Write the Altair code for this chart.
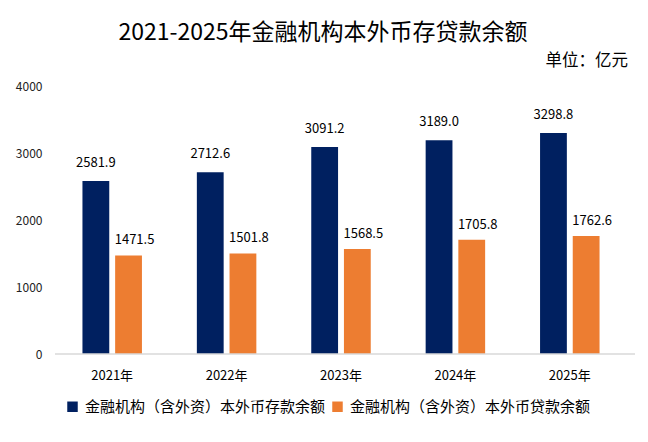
import altair as alt
import pandas as pd

years = ["2021年", "2022年", "2023年", "2024年", "2025年"]
deposits = [2581.9, 2712.6, 3091.2, 3189.0, 3298.8]
loans = [1471.5, 1501.8, 1568.5, 1705.8, 1762.6]
series = ["金融机构（含外资）本外币存款余额", "金融机构（含外资）本外币贷款余额"]
colors = ["#002060", "#ED7D31"]
title_text = "2021-2025年金融机构本外币存贷款余额"
unit_text = "单位：亿元"
y_ticks = [0, 1000, 2000, 3000, 4000]

rows = []
for i, y in enumerate(years):
    rows.append({"year": y, "series": series[0], "value": deposits[i], "label": f"{deposits[i]:.1f}"})
    rows.append({"year": y, "series": series[1], "value": loans[i], "label": f"{loans[i]:.1f}"})
df = pd.DataFrame(rows)

FONT = "Noto Sans CJK SC"
W, H = 572, 268

x_axis = alt.Axis(labelAngle=0, labelFontSize=13, labelColor="#000000",
                  labelFont=FONT, ticks=False, labelPadding=15,
                  domain=False, grid=False)
y_axis = alt.Axis(values=y_ticks, format="d", grid=False, domain=False, ticks=False,
                  labelFontSize=12, labelColor="#222222", labelFont=FONT,
                  labelPadding=13)

x_scale = alt.Scale(paddingInner=0.48, paddingOuter=0.24)
y_scale = alt.Scale(domain=[0, 4000], nice=False)
xoff = alt.XOffset("series:N", sort=series, scale=alt.Scale(paddingInner=0.18))

base = alt.Chart(df)

bars = base.mark_bar().encode(
    x=alt.X("year:N", sort=years, title=None, scale=x_scale, axis=x_axis),
    xOffset=xoff,
    y=alt.Y("value:Q", title=None, scale=y_scale, axis=y_axis),
    color=alt.Color("series:N", sort=series,
                    scale=alt.Scale(domain=series, range=colors),
                    legend=alt.Legend(title=None, orient="none", legendX=10, legendY=313,
                                      direction="horizontal", symbolType="square",
                                      symbolSize=110, symbolStrokeWidth=0,
                                      labelFontSize=15, labelFont=FONT, labelColor="#000000",
                                      labelOffset=5, columnPadding=4,
                                      labelLimit=400)),
)

baseline_df = pd.DataFrame({"v": [0]})
baseline = alt.Chart(baseline_df).mark_rule(color="#d9d9d9", strokeWidth=1.5).encode(
    y=alt.Y("v:Q", scale=y_scale, axis=None),
    x=alt.value(0), x2=alt.value(W + 8))

x_plain = alt.X("year:N", sort=years, scale=x_scale, axis=None)
y_plain = alt.Y("value:Q", scale=y_scale, axis=None)

lab_dep = base.transform_filter(alt.datum.series == series[0]).mark_text(
    baseline="bottom", dy=-11, fontSize=13, font=FONT, color="#000000"
).encode(x=x_plain, xOffset=xoff, y=y_plain, text="label:N")

lab_loan = base.transform_filter(alt.datum.series == series[1]).mark_text(
    baseline="bottom", dy=-8, dx=6, fontSize=13, font=FONT, color="#000000"
).encode(x=x_plain, xOffset=xoff, y=y_plain, text="label:N")

tdf = pd.DataFrame({"t": [title_text]})
title = alt.Chart(tdf).mark_text(fontSize=23, font=FONT, color="#000000",
                                 baseline="middle", align="center").encode(
    x=alt.value(268), y=alt.value(-53), text="t:N")

udf = pd.DataFrame({"t": [unit_text]})
unit = alt.Chart(udf).mark_text(fontSize=16.5, font=FONT, color="#000000",
                                baseline="middle", align="right").encode(
    x=alt.value(573), y=alt.value(-25), text="t:N")

chart = alt.layer(bars, baseline, lab_dep, lab_loan, title, unit).resolve_axis(
    x="independent", y="independent"
).properties(
    width=W, height=H,
    background="#ffffff",
    autosize=alt.AutoSizeParams(type="none"),
    padding={"left": 47, "top": 78, "right": 13, "bottom": 80},
).configure_view(strokeWidth=0, stroke="transparent"
).configure_axis(grid=False, gridOpacity=0, tickOpacity=0, domainOpacity=0)

chart.save("out.html", embed_options={"renderer": "svg", "actions": False})
